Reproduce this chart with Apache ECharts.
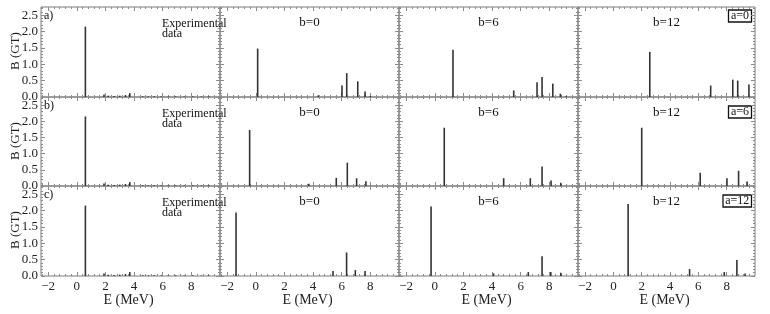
<!DOCTYPE html>
<html>
<head>
<meta charset="utf-8">
<script src="https://cdn.jsdelivr.net/npm/echarts@6/dist/echarts.min.js"></script>
<style>
  html, body { margin: 0; padding: 0; background: #fff; }
  #chart { width: 770px; height: 314px; }
</style>
</head>
<body>
<div id="chart"></div>
<script>
// experimental strengths (same in every row)
const expE = [0.6, 1.9, 2.2, 2.6, 3.0, 3.4, 3.7, 4.6, 5.0, 5.4, 5.9, 6.4, 6.9, 7.5, 8.1, 8.7, 9.2]
const expB = [2.15, 0.08, 0.04, 0.03, 0.04, 0.06, 0.12, 0.02, 0.02, 0.02, 0.02, 0.015, 0.02, 0.015, 0.02, 0.015, 0.02]

// a=0
const a0b0E = [0.13, 4.36, 6.02, 6.35, 7.12, 7.63, 8.0]
const a0b0B = [1.48, 0.05, 0.35, 0.73, 0.48, 0.17, 0.03]
const a0b6E = [1.27, 5.51, 7.14, 7.49, 8.24, 8.77, 9.17]
const a0b6B = [1.44, 0.2, 0.45, 0.61, 0.41, 0.1, 0.02]
const a0b12E = [2.57, 6.87, 8.43, 8.78, 9.57]
const a0b12B = [1.38, 0.35, 0.53, 0.5, 0.38]

// a=6
const a6b0E = [-0.43, 3.7, 5.62, 6.39, 7.04, 7.69]
const a6b0B = [1.73, 0.07, 0.25, 0.72, 0.24, 0.15]
const a6b6E = [0.66, 4.81, 6.67, 7.49, 8.12, 8.8]
const a6b6B = [1.8, 0.24, 0.24, 0.6, 0.17, 0.1]
const a6b12E = [2.0, 6.13, 8.02, 8.84, 9.44]
const a6b12B = [1.8, 0.41, 0.24, 0.47, 0.14]

// a=12
const a12b0E = [-1.38, 5.39, 6.34, 6.95, 7.63]
const a12b0B = [1.94, 0.15, 0.72, 0.18, 0.15]
const a12b6E = [-0.26, 4.1, 6.53, 7.49, 8.1, 8.8]
const a12b6B = [2.12, 0.08, 0.12, 0.6, 0.12, 0.1]
const a12b12E = [1.04, 5.38, 7.83, 8.72, 9.3]
const a12b12B = [2.2, 0.21, 0.12, 0.49, 0.08]

const rowLabels = ['a)', 'b)', 'c)']
const boxLabels = ['a=0', 'a=6', 'a=12']
const colTitles = ['', 'b=0', 'b=6', 'b=12']
const xTicks = [-2, 0, 2, 4, 6, 8]
const yTicks = [0, 0.5, 1.0, 1.5, 2.0, 2.5]

const panelData = [
  [[expE, expB], [a0b0E, a0b0B], [a0b6E, a0b6B], [a0b12E, a0b12B]],
  [[expE, expB], [a6b0E, a6b0B], [a6b6E, a6b6B], [a6b12E, a6b12B]],
  [[expE, expB], [a12b0E, a12b0B], [a12b6E, a12b6B], [a12b12E, a12b12B]]
]

const xMin = -2.5, xMax = 10, yMax = 2.75
const colLeft = [41, 220, 399, 578]
const colWidth = [179, 179, 179, 177]
const rowTop = [7, 97, 186]
const rowHeight = [90, 89, 90]
const boxOffset = [9, 15, 15]
const boxLeft = [728.5, 728.5, 723]
const font = 'Liberation Serif'
const frameColor = '#7a7a7a'
const tickColor = '#8c8c8c'

// minor tick positions
const xMinor = []
for (let v = -2.4; v < xMax; v += 0.4) xMinor.push(Math.round(v * 10) / 10)
const yMinor = []
for (let v = 0.1; v < yMax; v += 0.1) yMinor.push(Math.round(v * 10) / 10)

const fmtMinus = v => (v < 0 ? '\u2212' + (-v) : '' + v)

const grids = [], xAxes = [], yAxes = [], series = [], graphics = []

for (let r = 0; r < 3; r++) {
  for (let c = 0; c < 4; c++) {
    const gi = grids.length
    grids.push({
      left: colLeft[c], top: rowTop[r], width: colWidth[c], height: rowHeight[r],
      show: true, borderColor: frameColor, borderWidth: 1
    })
    const common = { type: 'value', min: xMin, max: xMax, gridIndex: gi, splitLine: { show: false }, axisLine: { show: false, onZero: false } }
    // bottom major
    xAxes.push(Object.assign({}, common, {
      position: 'bottom',
      axisTick: { show: true, inside: true, length: 4, customValues: xTicks, lineStyle: { color: tickColor } },
      axisLabel: { show: r === 2, customValues: xTicks, formatter: fmtMinus, fontFamily: font, fontSize: 13, color: '#222', margin: 4 }
    }))
    const bottomIdx = xAxes.length - 1
    // top major (ticks only)
    xAxes.push(Object.assign({}, common, {
      position: 'top',
      axisTick: { show: true, inside: true, length: 4, customValues: xTicks, lineStyle: { color: tickColor } },
      axisLabel: { show: false }
    }))
    // bottom / top minor
    xAxes.push(Object.assign({}, common, {
      position: 'bottom',
      axisTick: { show: true, inside: true, length: 2, customValues: xMinor, lineStyle: { color: tickColor } },
      axisLabel: { show: false }
    }))
    xAxes.push(Object.assign({}, common, {
      position: 'top',
      axisTick: { show: true, inside: true, length: 2, customValues: xMinor, lineStyle: { color: tickColor } },
      axisLabel: { show: false }
    }))

    const yc = { type: 'value', min: 0, max: yMax, gridIndex: gi, splitLine: { show: false }, axisLine: { show: false, onZero: false } }
    yAxes.push(Object.assign({}, yc, {
      position: 'left',
      axisTick: { show: true, inside: true, length: 4, customValues: yTicks, lineStyle: { color: tickColor } },
      axisLabel: { show: c === 0, customValues: yTicks, formatter: v => v.toFixed(1), fontFamily: font, fontSize: 13, color: '#222', margin: 3 }
    }))
    const leftIdx = yAxes.length - 1
    yAxes.push(Object.assign({}, yc, {
      position: 'right',
      axisTick: { show: true, inside: true, length: 4, customValues: yTicks, lineStyle: { color: tickColor } },
      axisLabel: { show: false }
    }))
    yAxes.push(Object.assign({}, yc, {
      position: 'left',
      axisTick: { show: true, inside: true, length: 2, customValues: yMinor, lineStyle: { color: tickColor } },
      axisLabel: { show: false }
    }))
    yAxes.push(Object.assign({}, yc, {
      position: 'right',
      axisTick: { show: true, inside: true, length: 2, customValues: yMinor, lineStyle: { color: tickColor } },
      axisLabel: { show: false }
    }))

    const [es, bs] = panelData[r][c]
    series.push({
      type: 'custom',
      xAxisIndex: bottomIdx,
      yAxisIndex: leftIdx,
      data: es.map((e, i) => [e, bs[i]]),
      renderItem: function (params, api) {
        const top = api.coord([api.value(0), api.value(1)])
        const base = api.coord([api.value(0), 0])
        return {
          type: 'line',
          shape: { x1: top[0], y1: top[1], x2: base[0], y2: base[1] },
          style: { stroke: '#333', lineWidth: 1.6 }
        }
      },
      silent: true,
      animation: false
    })

    // panel texts
    if (c === 0) {
      graphics.push({ type: 'text', left: colLeft[0] + 3, top: rowTop[r] + 3,
        style: { text: rowLabels[r], font: '12px ' + font, fill: '#111' } })
      graphics.push({ type: 'text', left: 162, top: rowTop[r] + 11,
        style: { text: 'Experimental\ndata', font: '12px ' + font, fill: '#111', lineHeight: 10 } })
    } else {
      graphics.push({ type: 'text', x: colLeft[c] + colWidth[c] / 2, y: rowTop[r] + 15.5,
        style: { text: colTitles[c], font: '13px ' + font, fill: '#111', align: 'center', verticalAlign: 'middle' } })
    }
    if (c === 3) {
      const cy = rowTop[r] + boxOffset[r]
      const bw = 751.5 - boxLeft[r]
      graphics.push({ type: 'text', x: boxLeft[r] + bw / 2, y: cy,
        style: { text: boxLabels[r], font: '12px ' + font, fill: '#111', align: 'center', verticalAlign: 'middle' } })
      graphics.push({ type: 'rect', shape: { x: boxLeft[r], y: cy - 6, width: bw, height: 12 },
        style: { fill: 'none', stroke: '#111', lineWidth: 1.3 } })
    }
  }
  graphics.push({ type: 'text', x: 16, y: rowTop[r] + 44, rotation: Math.PI / 2,
    style: { text: 'B (GT)', font: '13px ' + font, fill: '#222', align: 'center', verticalAlign: 'middle' } })
}
for (let c = 0; c < 4; c++) {
  graphics.push({ type: 'text', x: colLeft[c] + colWidth[c] / 2 - 2, y: 300,
    style: { text: 'E (MeV)', font: '14px ' + font, fill: '#222', align: 'center', verticalAlign: 'middle' } })
}

const chart = echarts.init(document.getElementById('chart'))
chart.setOption({
  animation: false,
  backgroundColor: '#fff',
  grid: grids,
  xAxis: xAxes,
  yAxis: yAxes,
  series: series,
  graphic: graphics
})
</script>
</body>
</html>
